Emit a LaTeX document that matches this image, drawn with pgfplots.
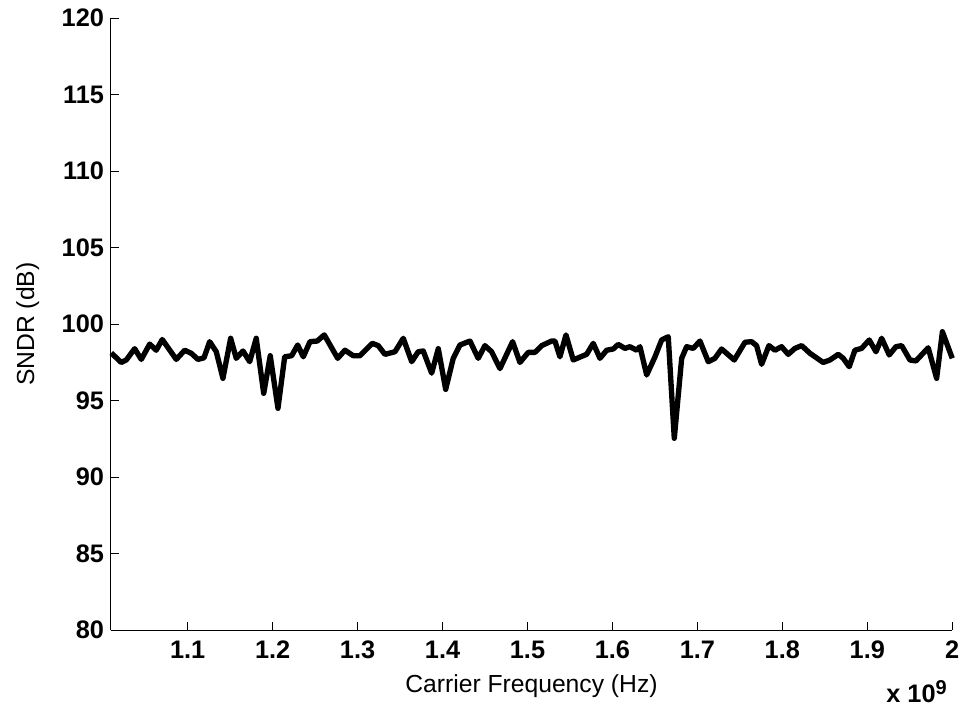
\documentclass[border=0pt]{standalone}
\usepackage{pgfplots}
\pgfplotsset{compat=1.18}
\usepackage{fontspec}
\setmainfont{Liberation Sans}
\begin{document}
\begin{tikzpicture}
\begin{axis}[
  scale only axis,
  width=631pt, height=458.8pt,
  xmin=1.0094, xmax=2.0,
  ymin=80, ymax=120,
  axis x line*=bottom, axis y line*=left,
  axis line style={-, line width=0.8pt},
  tick style={line width=0.8pt, black},
  tick align=inside,
  major tick length=6pt,
  xtick={1.1,1.2,1.3,1.4,1.5,1.6,1.7,1.8,1.9,2.0},
  xticklabels={1.1,1.2,1.3,1.4,1.5,1.6,1.7,1.8,1.9,2},
  ytick={80,85,90,95,100,105,110,115,120},
  /pgf/number format/assume math mode=true,
  tick label style={font=\fontsize{19}{20}\selectfont\bfseries},
  xticklabel style={text height=13.5pt, text depth=0pt, anchor=north, yshift=-4pt},
  yticklabel style={xshift=-1.5pt},
  label style={font=\fontsize{18.5}{20}\selectfont},
  xlabel={Carrier Frequency (Hz)},
  ylabel={SNDR (dB)},
  xlabel style={at={(axis description cs:0.5,-0.0915)}, anchor=center},
  ylabel style={at={(axis description cs:-0.0985,0.5)}, anchor=center},
  clip=false,
]
\addplot[black, line width=4pt, line join=round] coordinates {
(1.0101,98.12) (1.0218,97.50) (1.0277,97.66) (1.0376,98.40) (1.0454,97.70)
(1.0553,98.70) (1.0630,98.30) (1.0701,99.00) (1.0866,97.70) (1.0965,98.30)
(1.1042,98.10) (1.1121,97.70) (1.1192,97.80) (1.1259,98.86) (1.1337,98.20)
(1.1415,96.46) (1.1506,99.08) (1.1572,97.77) (1.1651,98.25) (1.1730,97.55)
(1.1807,99.08) (1.1895,95.48) (1.1972,97.94) (1.2063,94.50) (1.2142,97.87)
(1.2224,97.94) (1.2295,98.64) (1.2361,97.87) (1.2440,98.86) (1.2525,98.90)
(1.2608,99.30) (1.2766,97.77) (1.2851,98.30) (1.2949,97.94) (1.3028,97.94)
(1.3173,98.75) (1.3243,98.60) (1.3322,98.03) (1.3440,98.20) (1.3538,99.08)
(1.3637,97.55) (1.3714,98.20) (1.3773,98.25) (1.3872,96.80) (1.3950,98.40)
(1.4037,95.74) (1.4126,97.77) (1.4205,98.64) (1.4323,98.90) (1.4420,97.77)
(1.4499,98.60) (1.4578,98.20) (1.4676,97.10) (1.4825,98.86) (1.4911,97.50)
(1.5009,98.16) (1.5088,98.16) (1.5167,98.60) (1.5284,98.90) (1.5323,98.90)
(1.5382,97.87) (1.5453,99.30) (1.5539,97.66) (1.5626,97.87) (1.5696,98.03)
(1.5774,98.75) (1.5853,97.77) (1.5932,98.30) (1.6009,98.38) (1.6068,98.68)
(1.6147,98.42) (1.6206,98.53) (1.6285,98.30) (1.6324,98.53) (1.6403,96.68)
(1.6501,97.87) (1.6579,98.97) (1.6657,99.18) (1.6728,92.54) (1.6815,97.77)
(1.6873,98.53) (1.6951,98.42) (1.7030,98.90) (1.7128,97.55) (1.7206,97.77)
(1.7285,98.38) (1.7434,97.66) (1.7560,98.82) (1.7638,98.86) (1.7697,98.60)
(1.7756,97.38) (1.7842,98.60) (1.7913,98.30) (1.7991,98.53) (1.8069,98.03)
(1.8148,98.42) (1.8227,98.60) (1.8325,98.10) (1.8481,97.50) (1.8560,97.66)
(1.8658,98.03) (1.8717,97.77) (1.8787,97.22) (1.8854,98.30) (1.8933,98.42)
(1.9023,98.97) (1.9102,98.20) (1.9169,99.08) (1.9258,97.99) (1.9337,98.53)
(1.9404,98.60) (1.9502,97.66) (1.9572,97.60) (1.9717,98.46) (1.9816,96.46)
(1.9884,99.51) (2.0000,97.77)
};
\node[font=\fontsize{19}{20}\selectfont\bfseries, anchor=center] at (rel axis cs:0.9580,-0.100) {x 10\textsuperscript{\fontsize{15}{16}\selectfont 9}};
\end{axis}
\pgfresetboundingbox
\path (current axis.south west) ++(-83.0pt,-61.5pt) coordinate (bbA);
\path (current axis.north east) ++(8.8pt,13.7pt) coordinate (bbB);
\useasboundingbox (bbA) rectangle (bbB);
\end{tikzpicture}
\end{document}
